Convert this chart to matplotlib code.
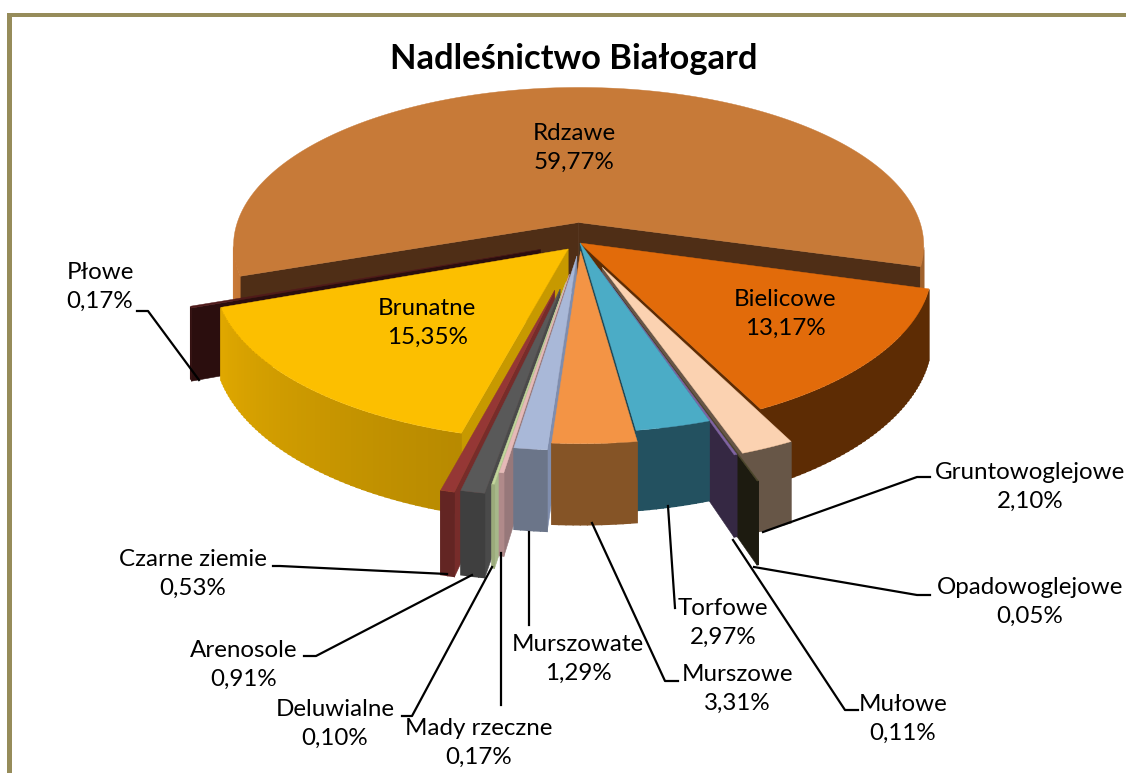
import numpy as np
import matplotlib
matplotlib.use('Agg')
import matplotlib.pyplot as plt
from matplotlib.patches import Rectangle

plt.rcParams['font.family'] = ['Lato', 'DejaVu Sans']

names = ['Rdzawe', 'Bielicowe', 'Gruntowoglejowe', 'Opadowoglejowe', 'Mułowe',
         'Torfowe', 'Murszowe', 'Murszowate', 'Mady rzeczne', 'Deluwialne',
         'Arenosole', 'Czarne ziemie', 'Brunatne', 'Płowe']
shares = [59.77, 13.17, 2.10, 0.05, 0.11, 2.97, 3.31, 1.29, 0.17, 0.10,
          0.91, 0.53, 15.35, 0.17]

explode = [0.13, 0.0, 0.16, 0.28, 0.16, 0.0, 0.05, 0.08, 0.19, 0.24, 0.28, 0.29, 0.05, 0.12]
top_colors = ['#c77a38', '#e26b0a', '#fbd2b1', '#4a452a', '#8064a2', '#4bacc6', '#f39445',
              '#a9b8d8', '#e6b9b8', '#c3d69b', '#595959', '#953735', '#fcbf00', '#4f1a1a']
wall_colors = ['#a0612c', '#5d2c04', '#675647', '#1d1b10', '#352843', '#235160', '#855426',
               '#6b7589', '#b08a8a', '#9bab7b', '#3f3f3f', '#632523', '#b88a00', '#2b0e0e']
face_colors = ['#4f2e16', '#5d2c04', '#675647', '#1d1b10', '#352843', '#1f4856', '#855426',
               '#7f8dad', '#97787a', '#a7b88a', '#4a4a4a', '#772c2a', '#c79900', '#2b0e0e']

# centre of each label, then the leader line from the slice to the label
label_pos = [(574, 148), (785, 314), (1030, 487), (1030, 602), (903, 719), (723, 623),
             (737, 689), (578, 659), (479, 743), (335, 724), (244, 665), (193, 574),
             (427, 323), (100, 287)]
leaders = {
    'Płowe': [(137, 311), (148, 311), (199, 380)],
    'Gruntowoglejowe': [(763, 532), (917, 477), (930, 477)],
    'Opadowoglejowe': [(754, 567), (917, 595), (930, 595)],
    'Mułowe': [(733, 540), (845, 710), (858, 710)],
    'Torfowe': [(668, 506), (675, 608)],
    'Murszowe': [(592, 523), (665, 681), (678, 681)],
    'Murszowate': [(529, 532), (529, 625)],
    'Mady rzeczne': [(501, 553), (501, 705)],
    'Deluwialne': [(492, 567), (412, 716), (402, 716)],
    'Arenosole': [(472, 575), (316, 656), (304, 656)],
    'Czarne ziemie': [(447, 574), (280, 566), (273, 566)],
}

cx, cy = 580, 243
rx, ry = 348, 161
persp = 0.15
depth = 69
start = -109.3


def project(u, v):
    s = 1 / (1 - persp * v)
    return cx + rx * u * s, cy + ry * v * s, depth * s


def on_slice(theta, radius, e, mid):
    t, m = np.radians(theta), np.radians(mid)
    u = radius * np.sin(t) + e * np.sin(m)
    v = -radius * np.cos(t) + e * np.cos(m) * -1
    return project(u, v)


def shade(color, f):
    rgb = np.array(matplotlib.colors.to_rgb(color)) * f
    return tuple(np.clip(rgb, 0, 1))


def draw_slice(ax, a, b, e, top, wall, face):
    mid = (a + b) / 2
    n = max(int(b - a) + 2, 2)
    thetas = np.linspace(a, b, n)
    arc = [on_slice(t, 1, e, mid) for t in thetas]
    apex = on_slice(a, 0, e, mid)
    eps = min(b - a, 1.0)

    # radial cut faces, only those turned to the viewer
    for theta, other in [(a, a + eps), (b, b - eps)]:
        B = on_slice(theta, 1, e, mid)
        P = on_slice(other, 1, e, mid)
        line_y = apex[1] + (B[1] - apex[1]) * (P[0] - apex[0]) / (B[0] - apex[0])
        if P[1] < line_y:
            ax.fill([apex[0], B[0], B[0], apex[0]],
                    [apex[1], B[1], B[1] + B[2], apex[1] + apex[2]],
                    color=face, lw=0.4)

    # outer wall, strip by strip; strips overlap a little so no seams show
    for t, p, q in zip(thetas[:-1], arc[:-1], arc[1:]):
        if q[0] < p[0]:
            t_norm = t % 360
            f = 1 + max(t_norm - 195, 0) * 0.004
            ax.fill([p[0] + 0.6, q[0] - 0.6, q[0] - 0.6, p[0] + 0.6],
                    [p[1], q[1], q[1] + q[2], p[1] + p[2]],
                    facecolor=shade(wall, f), edgecolor='none', lw=0)

    xs = [apex[0]] + [p[0] for p in arc]
    ys = [apex[1]] + [p[1] for p in arc]
    ax.fill(xs, ys, color=top, lw=0.3)


fig = plt.figure(figsize=(11.26, 7.73), dpi=100)
ax = fig.add_axes([0, 0, 1, 1])
ax.set_xlim(0, 1126)
ax.set_ylim(773, 0)
ax.axis('off')

# chart frame
ax.add_patch(Rectangle((7, 13), 1119, 4, color='#968c5a', lw=0))
ax.add_patch(Rectangle((7, 13), 5, 760, color='#968c5a', lw=0))

spans = np.array(shares) / sum(shares) * 360
ends = start + np.cumsum(spans)
starts = ends - spans

# back slices first, the ones facing the viewer last
order = sorted(range(len(names)), key=lambda i: -abs((starts[i] + ends[i]) / 2 - 180))
for i in order:
    draw_slice(ax, starts[i], ends[i], explode[i], top_colors[i], wall_colors[i], face_colors[i])

for pts in leaders.values():
    ax.plot([p[0] for p in pts], [p[1] for p in pts], color='black', lw=1.6, zorder=5)

for name, share, pos in zip(names, shares, label_pos):
    txt = name + '\n' + f'{share:.2f}'.replace('.', ',') + '%'
    ax.text(pos[0], pos[1], txt, ha='center', va='center', fontsize=17.4,
            linespacing=1.5, color='black', zorder=6)

ax.text(574, 59, 'Nadleśnictwo Białogard', ha='center', va='center',
        fontsize=24.8, fontweight='bold', color='black')

fig.savefig('out.png', dpi=100)
